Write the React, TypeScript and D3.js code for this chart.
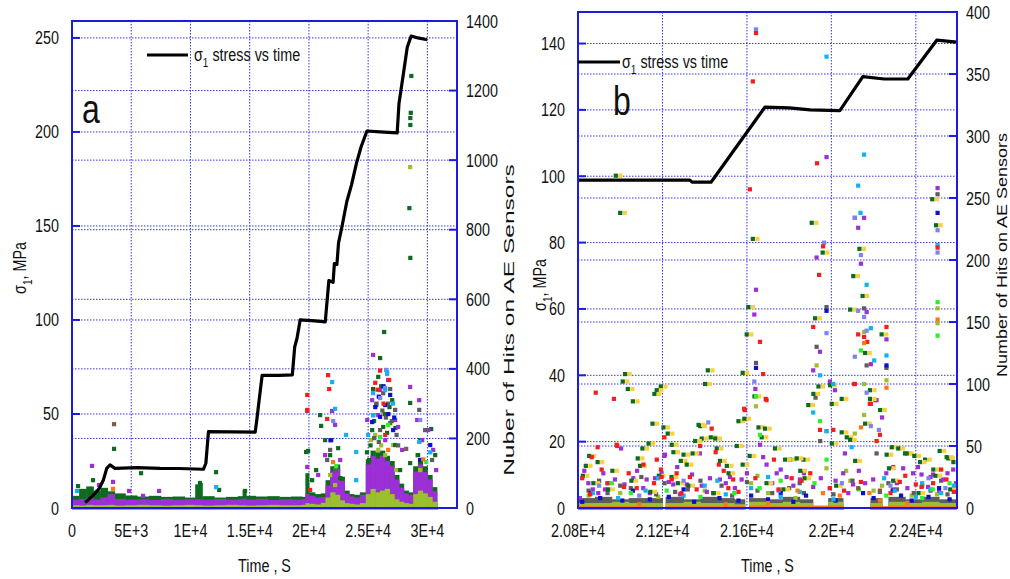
import React from "react";
import * as d3 from "d3";

const FONT = "'Liberation Sans', Arial, sans-serif";

const C = {
  darkGreen: "#0e6a1f",
  yellow: "#f7d23e",
  purple: "#9d2fd6",
  olive: "#9bbf2e",
  red: "#f51d1d",
  cyan: "#12b2ef",
  blue: "#0a12c8",
  grey: "#5d5d5d",
  lilac: "#7d84ee",
  bright: "#2cf02c",
  orange: "#f9781c",
  brown: "#7c5b57",
};
const FRAME = "#1c1ce0";
const GRID = "#3434e8";

type Pt = [number, number];

// ---------- panel a ----------
const timeTicksA = [0, 5000, 10000, 15000, 20000, 25000, 30000];
const timeLabelsA = ["0", "5E+3", "1E+4", "1.5E+4", "2E+4", "2.5E+4", "3E+4"];
const stressTicksA = [0, 50, 100, 150, 200, 250];
const hitTicksA = [0, 200, 400, 600, 800, 1000, 1200, 1400];

const stressA: Pt[] = [
  [1100, 3], [1380, 4.3], [1940, 7.8], [2310, 10.5], [2650, 14.9], [2930, 21.1], [3210, 22.9],
  [3630, 21.1], [5500, 21.5], [7440, 21.1], [9000, 21], [11100, 20.6], [11300, 23.8], [11520, 40.6],
  [13500, 40.5], [15460, 40.3], [15600, 46.8], [15800, 57.5], [16050, 70.5], [17500, 70.5],
  [18600, 70.8], [18800, 85.7], [19000, 90.4], [19260, 100], [20500, 99.5], [21380, 99], [21685, 121],
  [22040, 120], [22149, 130], [22362, 129.5], [22500, 141], [22800, 150], [23200, 163], [23600, 172],
  [24000, 183], [24400, 192], [24900, 200.5], [26000, 200], [27450, 199.5], [27600, 215], [28000, 232],
  [28300, 245], [28630, 251], [29200, 250], [29980, 249],
];

// dense low band of hits (columns between consecutive times)
const bandTimeA = [
  0, 600, 1200, 1800, 2400, 3000, 3600, 4500, 5500, 6500, 7500, 8500, 9500, 10400, 10700, 11000, 12000,
  13000, 14000, 14400, 14700, 15500, 16500, 17500, 18500, 19400, 19700, 20000, 20500, 21000, 21400,
  21800, 22200, 22600, 23000, 23400, 23800, 24300, 24800, 25200, 25600, 26000, 26400, 26800, 27200,
  27600, 28000, 28400, 28800, 29200, 29600, 30000, 30400, 30800,
];
const bandGreenA = [
  35, 55, 62, 50, 58, 48, 42, 36, 33, 35, 32, 33, 30, 68, 72, 34, 30, 32, 34, 52, 35, 33, 34, 32, 33,
  32, 100, 45, 40, 42, 80, 120, 125, 90, 50, 40, 38, 45, 140, 165, 160, 165, 150, 135, 95, 70, 50, 45,
  120, 140, 120, 95, 60,
];
const bandPurpleA = [
  24, 26, 28, 24, 30, 40, 26, 24, 25, 23, 26, 24, 25, 26, 25, 24, 26, 24, 25, 27, 24, 26, 23, 25, 24,
  26, 40, 35, 30, 32, 65, 105, 112, 78, 42, 33, 30, 38, 125, 150, 142, 150, 135, 120, 82, 58, 42, 38,
  105, 125, 108, 82, 48,
];
const bandOliveA = [
  8, 7, 9, 8, 8, 9, 7, 8, 9, 8, 7, 8, 9, 8, 8, 7, 8, 9, 8, 8, 7, 8, 9, 8, 8, 9, 14, 12, 10, 15, 30, 45,
  38, 22, 14, 12, 10, 14, 40, 55, 45, 50, 55, 40, 25, 18, 14, 12, 40, 50, 42, 32, 18,
];

const aDarkGreen: Pt[] = [
  [28645, 1242], [28600, 1136], [28560, 1121], [28560, 1101], [28480, 862], [28560, 719], [26350, 506],
  [26010, 431], [28545, 302], [28545, 129], [30320, 227], [21030, 236], [20945, 267], [19930, 164],
  [25850, 377], [25420, 342], [26270, 233], [26600, 216], [3550, 170], [5830, 100], [12160, 103],
  [12420, 52], [1775, 80], [510, 63], [14610, 49], [10810, 72], [19760, 161], [21370, 195], [21790, 152],
  [22210, 109], [22640, 86], [20610, 109], [20270, 80], [22470, 172], [25340, 224], [25680, 296],
  [27030, 310], [27280, 181], [27700, 109], [25080, 138], [29390, 195], [29810, 109], [30660, 152],
  [29220, 152], [25500, 250], [26100, 350], [26800, 290], [27300, 230], [25200, 180], [26400, 270],
  [24900, 160],
];
const aPurple: Pt[] = [
  [1690, 121], [4816, 49], [7350, 49], [6000, 35], [2280, 66], [3464, 75], [19860, 118], [25420, 440],
  [28545, 348], [21960, 279], [21370, 152], [21790, 195], [22210, 239], [22640, 138], [20780, 95],
  [24920, 253], [25340, 310], [26010, 339], [26690, 368], [27280, 253], [27530, 233], [27870, 167],
  [26440, 195], [25850, 267], [29140, 253], [29310, 310], [29560, 195], [30070, 224], [30490, 167],
  [30740, 109],
];
const aRed: Pt[] = [
  [19860, 282], [21620, 382], [21710, 342], [19860, 325], [19860, 279], [21540, 256], [26770, 368],
  [26440, 210], [20100, 52], [26000, 395], [25600, 360], [26300, 300], [25800, 340],
];
const aCyan: Pt[] = [
  [21960, 362], [22210, 285], [23140, 210], [26600, 385], [25420, 330], [12170, 60], [420, 49],
  [23990, 161], [23990, 80], [25420, 267], [26440, 339], [26600, 391], [29310, 190], [30240, 160],
  [25000, 210], [27100, 300],
];
const aGrey: Pt[] = [
  [26860, 342], [26270, 330], [25420, 267], [26860, 244], [25510, 201], [27280, 282], [26010, 224],
  [21790, 167], [22210, 109], [21540, 138], [29310, 282], [29810, 224], [30400, 138], [27530, 180],
  [25700, 300], [26200, 280], [26700, 300], [27000, 250], [25900, 190], [26500, 260], [27400, 210],
];
const aBlue: Pt[] = [
  [26010, 262], [25340, 247], [26860, 325], [26440, 296], [27110, 224], [21880, 195], [29390, 138],
  [30240, 181], [25600, 290], [26300, 350], [26700, 270], [25900, 320], [27200, 260],
];
const aLilac: Pt[] = [[26440, 345], [26520, 397], [29390, 253], [26010, 316], [22050, 250]];
const aOlive: Pt[] = [
  [25250, 195], [25850, 167], [26440, 152], [27110, 181], [27370, 109], [21790, 95], [22210, 66],
  [29140, 152], [29390, 109], [28545, 980], [25600, 210], [26100, 180],
];
const aBright: Pt[] = [[26010, 204], [26690, 239], [29900, 132], [22300, 120]];
const aOrange: Pt[] = [[22040, 132], [26690, 167], [3460, 55], [29650, 140]];
const aBrown: Pt[] = [[3550, 241], [28210, 170]];

// ---------- panel b ----------
const timeTicksB = [20800, 21200, 21600, 22000, 22400];
const timeLabelsB = ["2.08E+4", "2.12E+4", "2.16E+4", "2.2E+4", "2.24E+4"];
const stressTicksB = [0, 20, 40, 60, 80, 100, 120, 140];
const hitTicksB = [0, 50, 100, 150, 200, 250, 300, 350, 400];

const stressB: Pt[] = [
  [20800, 98.8], [21330, 98.8], [21340, 98.2], [21430, 98.2], [21685, 120.8], [21800, 120.6],
  [21900, 120], [22040, 119.8], [22149, 130], [22250, 129.3], [22362, 129.3], [22499, 141],
  [22594, 140.4],
];

const bandTimeB = [
  20800, 20880, 20960, 21040, 21120, 21200, 21215, 21300, 21380, 21460, 21540, 21590, 21610, 21690,
  21770, 21850, 21912, 21985, 22055, 22185, 22240, 22270, 22350, 22430, 22510, 22594,
];
const bandGreyB = [8, 9, 7, 8, 8, null, 9, 7, 9, 8, 7, null, 8, 7, 9, 7, null, 8, null, 8, null, 9, 7, 9, 7];
const bandOliveB = [4, 4, 5, 4, 4, null, 4, 5, 4, 4, 3, null, 5, 4, 5, 4, null, 5, null, 4, null, 5, 4, 5, 4];
const bandOrangeB = [1.5, 1.5, 1.5, 1.5, 1, null, 1.5, 1.5, 1.5, 1.5, 1.5, null, 2, 1.5, 1.5, 1.5, 2, 2, null, 2, 1.5, 2, 1.5, 1.5, 1.5];

const bGreenY: Pt[] = [
  [20986, 268], [21007, 238], [22485, 249], [21635, 217], [21614, 162], [21606, 140], [21587, 109],
  [21030, 108], [21422, 111], [21019, 102], [21043, 96], [21409, 100], [21199, 98], [21180, 95],
  [21169, 92], [21067, 86], [21160, 68], [21386, 66], [21212, 65], [21662, 65], [21232, 60], [21677, 57],
  [21393, 56], [21436, 57], [21362, 54], [21141, 52], [21251, 51], [21559, 50], [21112, 48], [21259, 45],
  [21307, 43], [21464, 48], [21294, 38], [20844, 34], [21101, 34], [21322, 35], [21512, 34], [21587, 35],
  [21914, 230], [21966, 206], [22140, 209], [22111, 187], [22155, 171], [22096, 160], [21930, 153],
  [22245, 140], [22167, 125], [22190, 95], [22009, 84], [22238, 79], [22056, 61], [22080, 57],
  [22009, 52], [22293, 49], [22356, 44], [22561, 40], [22451, 39], [21812, 39], [21875, 39], [21378, 67],
  [21457, 56], [21567, 70], [21595, 72], [21643, 90], [21693, 64], [21788, 39], [21843, 40], [21898, 83],
  [21922, 92], [21946, 98], [22001, 99], [22056, 88], [22096, 55], [22167, 68], [22190, 88], [22269, 43],
  [22324, 48], [22364, 44], [22427, 37], [22490, 31], [22553, 41], [22585, 37], [20830, 26], [20880, 20],
  [20950, 15], [21060, 22], [21150, 13], [21250, 25], [21330, 18], [21450, 12], [21520, 28], [21700, 20],
  [21780, 15], [21880, 24], [22030, 18], [22300, 22], [22420, 12], [22500, 26], [22570, 15],
  [22503, 228], [20860, 42], [20900, 37], [20970, 30], [21090, 40], [21190, 26], [21280, 20], [21350, 44],
  [21480, 38], [21620, 42], [21740, 48], [21860, 30], [22120, 38], [22280, 32], [22400, 42], [22520, 46],
];
const bPurple: Pt[] = [
  [22503, 258], [21977, 283], [22111, 234], [22155, 234], [22127, 226], [21643, 176], [21635, 156],
  [21640, 96], [21930, 202], [22140, 197], [22167, 158], [22261, 136], [21946, 126], [21914, 111],
  [22187, 116], [21993, 102], [22209, 87], [22017, 95], [22240, 73], [22064, 44], [20809, 8], [20849, 20],
  [20896, 12], [20928, 15], [20975, 23], [21004, 48], [21062, 24], [21109, 16], [21125, 23], [21165, 24],
  [21196, 28], [21212, 43], [21251, 19], [21283, 11], [21315, 19], [21386, 18], [21425, 24], [21472, 23],
  [21520, 25], [21543, 16], [21575, 23], [21662, 51], [21677, 41], [21693, 35], [21741, 28], [21788, 25],
  [21851, 23], [21914, 17], [21993, 16], [22056, 28], [22103, 19], [22198, 23], [22214, 87], [22293, 33],
  [22340, 32], [22387, 28], [22427, 27], [22482, 27], [22529, 23], [22577, 31], [22458, 17], [22293, 15],
  [21209, 42], [21377, 44], [20830, 30], [20870, 15], [20920, 28], [21020, 19], [21080, 30], [21140, 12],
  [21230, 21], [21270, 33], [21340, 27], [21410, 13], [21500, 20], [21600, 28], [21720, 20], [21760, 31],
  [21820, 18], [21870, 28], [21950, 24], [22020, 22], [22080, 12], [22130, 30], [22160, 20], [22260, 28],
  [22310, 20], [22360, 16], [22410, 33], [22470, 25], [22510, 14], [22550, 28], [22590, 20],
];
const bRed: Pt[] = [
  [21643, 383], [21628, 344], [21614, 257], [21932, 278], [21662, 134], [21677, 108], [20884, 93],
  [20970, 88], [21689, 88], [21587, 80], [21433, 64], [21209, 57], [20986, 50], [20893, 49], [21452, 45],
  [20865, 41], [21467, 35], [21193, 31], [21942, 188], [21961, 211], [21914, 146], [22127, 140],
  [22155, 138], [22170, 134], [22261, 146], [22108, 100], [22187, 84], [22009, 63], [22230, 59],
  [20912, 31], [20857, 11], [20983, 51], [21018, 17], [21078, 16], [21173, 39], [21196, 25], [21267, 28],
  [21244, 23], [21362, 15], [21378, 50], [21512, 16], [21535, 23], [21590, 79], [21693, 87], [21728, 39],
  [21812, 24], [21859, 22], [21946, 63], [21993, 16], [22111, 100], [22182, 84], [22214, 54], [22324, 21],
  [22427, 17], [22482, 20], [22545, 23], [22503, 210], [20820, 24], [20940, 20], [21040, 28], [21110, 35],
  [21160, 20], [21290, 12], [21330, 25], [21490, 30], [21560, 13], [21640, 24], [21750, 15], [21900, 28],
  [22060, 14], [22140, 21], [22280, 12], [22350, 26], [22400, 19], [22520, 31], [22580, 13],
];
const bCyan: Pt[] = [
  [21977, 364], [22155, 285], [22127, 260], [22138, 238], [21378, 50], [22167, 180], [22187, 145],
  [21946, 107], [22203, 119], [22261, 123], [22009, 100], [21914, 77], [21977, 62], [22096, 49],
  [22503, 212], [20870, 12], [20990, 8], [21120, 14], [21300, 10], [21400, 18], [21500, 11], [21620, 16],
  [21760, 9], [21850, 13], [22010, 7], [22300, 14], [22400, 9], [22520, 12], [22580, 18], [22430, 20],
  [20940, 20], [21180, 24], [21460, 22], [21700, 25], [22250, 24], [22470, 15],
];
const bBlue: Pt[] = [
  [22503, 238], [21643, 113], [21977, 159], [22261, 115], [20820, 5], [20905, 8], [21010, 6], [21140, 7],
  [21230, 9], [21350, 5], [21470, 8], [21560, 6], [21700, 7], [21820, 5], [21880, 10], [22020, 6],
  [22200, 8], [22330, 10], [22380, 6], [22460, 9], [22560, 7], [20860, 12], [21060, 14], [21300, 15],
  [21620, 10], [21760, 12], [22150, 12], [22290, 14], [22510, 16],
];
const bGrey: Pt[] = [
  [21643, 117], [21977, 162], [22155, 161], [21930, 130], [22167, 115], [22261, 113], [21925, 89],
  [21947, 54], [22214, 44], [22503, 253], [20850, 14], [20940, 12], [21050, 16], [21170, 11], [21260, 13],
  [21320, 15], [21440, 12], [21530, 10], [21650, 14], [21720, 12], [21800, 16], [21870, 12], [22010, 11],
  [22230, 13], [22310, 15], [22390, 12], [22470, 14], [22550, 11], [20900, 22], [21000, 18], [21100, 25],
  [21210, 20], [21380, 22], [21480, 18], [21600, 21], [21850, 20], [22100, 22], [22270, 20], [22430, 18],
  [22520, 22],
];
const bLilac: Pt[] = [
  [22111, 234], [21966, 214], [22140, 204], [22127, 159], [22155, 154], [21977, 141], [22167, 143],
  [22111, 122], [22167, 93], [22187, 66], [21977, 62], [22225, 63], [21635, 102], [21417, 69],
  [21643, 386], [22503, 224], [22503, 206], [20900, 18], [21090, 10], [21300, 22], [21750, 14],
  [22050, 20], [22280, 18], [22460, 24], [22540, 16],
];
const bOlive: Pt[] = [
  [21643, 82], [22155, 142], [21930, 115], [22261, 103], [22155, 100], [22155, 75], [22111, 60],
  [21977, 32], [22503, 161], [22503, 149], [20850, 10], [21000, 12], [21180, 9], [21400, 14], [21620, 20],
  [21650, 26], [21700, 12], [21830, 8], [22070, 30], [22090, 22], [22200, 14], [22240, 18], [22380, 10],
  [22500, 11],
];
const bOrange: Pt[] = [
  [22155, 133], [22261, 97], [22140, 65], [22503, 152], [21840, 14], [21960, 12], [22040, 10],
  [22180, 12], [22230, 6], [22360, 4], [21090, 3], [21500, 3], [21700, 4],
];
const bBright: Pt[] = [
  [21643, 90], [21662, 59], [22140, 127], [21946, 70], [21977, 39], [22503, 166], [22503, 139],
  [21050, 12], [21380, 9], [21660, 16], [21920, 20], [22130, 15], [22430, 8], [22560, 20], [20960, 20],
  [21220, 14], [21540, 12], [21760, 22], [22260, 10], [22480, 15],
];
const bBrown: Pt[] = [[22127, 16], [22230, 14]];

type Series = { color: string; pts: Pt[]; shadow?: string };
type Band = { color: string; vals: (number | null)[] };

function NText(props: {
  x: number; y: number; anchor?: string; size?: number; sx?: number; rotate?: number;
  children: React.ReactNode;
}) {
  const { x, y, anchor = "middle", size = 17.5, sx = 0.82, rotate = 0 } = props;
  return (
    <g transform={`translate(${x},${y}) rotate(${rotate}) scale(${sx},1)`}>
      <text textAnchor={anchor} fontSize={size} fontFamily={FONT} fill="#111">
        {props.children}
      </text>
    </g>
  );
}

function Panel(props: {
  id: string;
  x: d3.ScaleLinear<number, number>;
  yS: d3.ScaleLinear<number, number>;
  yH: d3.ScaleLinear<number, number>;
  timeTicks: number[];
  timeLabels: string[];
  stressTicks: number[];
  hitTicks: number[];
  bandTime: number[];
  bands: Band[];
  series: Series[];
  stress: Pt[];
}) {
  const { id, x, yS, yH } = props;
  const [x0, x1] = x.range();
  const [yb, yt] = yS.range();
  const line = d3.line<Pt>().x((d) => x(d[0])).y((d) => yS(d[1]));
  const s = 4.2;
  return (
    <g>
      <defs>
        <clipPath id={id}>
          <rect x={x0} y={yt} width={x1 - x0} height={yb - yt + 3} />
        </clipPath>
      </defs>
      {/* grid */}
      {props.timeTicks.filter((t) => x(t) > x0 + 2).map((t) => (
        <line key={"v" + t} x1={x(t)} x2={x(t)} y1={yt} y2={yb} stroke={GRID} strokeWidth={1} strokeDasharray="1.5,1.5" />
      ))}
      {props.stressTicks.filter((v) => yS(v) > yt + 2 && yS(v) < yb - 2).map((v) => (
        <line key={"s" + v} x1={x0} x2={x1} y1={yS(v)} y2={yS(v)} stroke={GRID} strokeWidth={1} strokeDasharray="1.5,1.5" />
      ))}
      {props.hitTicks.filter((v) => yH(v) > yt + 2 && yH(v) < yb - 2).map((v) => (
        <line key={"h" + v} x1={x0} x2={x1} y1={yH(v)} y2={yH(v)} stroke={GRID} strokeWidth={1} strokeDasharray="1.5,1.5" />
      ))}
      <g clipPath={`url(#${id})`}>
        {props.bands.map((b, bi) => (
          <g key={bi} fill={b.color}>
            {b.vals.map((v, i) =>
              v == null ? null : (
                <rect
                  key={i}
                  x={x(props.bandTime[i])}
                  width={x(props.bandTime[i + 1]) - x(props.bandTime[i]) + 0.5}
                  y={yH(v)}
                  height={yH(0) - yH(v) + 2}
                />
              )
            )}
          </g>
        ))}
        {props.series.map((se, si) => (
          <g key={si}>
            {se.pts.map((p, i) => (
              <g key={i}>
                {se.shadow && (
                  <rect x={x(p[0]) + 1} y={yH(p[1]) - s / 2} width={s} height={s} fill={se.shadow} />
                )}
                <rect x={x(p[0]) - s / 2 - (se.shadow ? 1.5 : 0)} y={yH(p[1]) - s / 2} width={s} height={s} fill={se.color} />
              </g>
            ))}
          </g>
        ))}
        <path d={line(props.stress) || ""} fill="none" stroke="#000" strokeWidth={3.2} strokeLinejoin="round" />
      </g>
      {/* frame and ticks */}
      <rect x={x0} y={yt} width={x1 - x0} height={yb - yt} fill="none" stroke={FRAME} strokeWidth={2} />
      {props.stressTicks.map((v) => (
        <g key={"ts" + v}>
          <line x1={x0} x2={x0 + 8} y1={yS(v)} y2={yS(v)} stroke={FRAME} strokeWidth={2} />
          <NText x={x0 - 13} y={yS(v) + 6.5} anchor="end">{v}</NText>
        </g>
      ))}
      {props.hitTicks.map((v) => (
        <g key={"th" + v}>
          <line x1={x1 - 8} x2={x1} y1={yH(v)} y2={yH(v)} stroke={FRAME} strokeWidth={2} />
          <NText x={x1 + 9} y={yH(v) + 6.5} anchor="start">{v}</NText>
        </g>
      ))}
      {props.timeTicks.map((t, i) => (
        <NText key={"tt" + t} x={x(t)} y={537}>{props.timeLabels[i]}</NText>
      ))}
      <NText x={(x0 + x1) / 2} y={572}>Time , S</NText>
    </g>
  );
}

function SigmaLabel(props: { x: number; y: number; rotate?: number; size?: number; text: string }) {
  const { x, y, rotate = 0, size = 17.5 } = props;
  return (
    <g transform={`translate(${x},${y}) rotate(${rotate}) scale(0.82,1)`}>
      <text textAnchor={rotate ? "middle" : "start"} fontSize={size} fontFamily={FONT} fill="#111">
        σ<tspan fontSize={size * 0.7} dy={6}>1</tspan>
        <tspan dy={-6}>{props.text}</tspan>
      </text>
    </g>
  );
}

export default function App() {
  const xA = d3.scaleLinear().domain([0, 32500]).range([72, 457]);
  const ySA = d3.scaleLinear().domain([0, 259]).range([508, 21]);
  const yHA = d3.scaleLinear().domain([0, 1400]).range([508, 21]);

  const xB = d3.scaleLinear().domain([20800, 22595]).range([578, 957]);
  const ySB = d3.scaleLinear().domain([0, 149.5]).range([508, 12]);
  const yHB = d3.scaleLinear().domain([0, 400]).range([508, 12]);

  const seriesA: Series[] = [
    { color: C.olive, pts: aOlive },
    { color: C.darkGreen, pts: aDarkGreen },
    { color: C.purple, pts: aPurple },
    { color: C.grey, pts: aGrey },
    { color: C.blue, pts: aBlue },
    { color: C.lilac, pts: aLilac },
    { color: C.cyan, pts: aCyan },
    { color: C.red, pts: aRed },
    { color: C.bright, pts: aBright },
    { color: C.orange, pts: aOrange },
    { color: C.brown, pts: aBrown },
  ];
  const seriesB: Series[] = [
    { color: C.olive, pts: bOlive },
    { color: C.grey, pts: bGrey },
    { color: C.purple, pts: bPurple },
    { color: C.darkGreen, pts: bGreenY, shadow: C.yellow },
    { color: C.blue, pts: bBlue },
    { color: C.lilac, pts: bLilac },
    { color: C.cyan, pts: bCyan },
    { color: C.red, pts: bRed },
    { color: C.bright, pts: bBright },
    { color: C.orange, pts: bOrange },
    { color: C.brown, pts: bBrown },
  ];

  return (
    <svg width={1010} height={579} style={{ position: "absolute", left: 0, top: 0, background: "#fff" }}>
      <Panel
        id="clipA"
        x={xA}
        yS={ySA}
        yH={yHA}
        timeTicks={timeTicksA}
        timeLabels={timeLabelsA}
        stressTicks={stressTicksA}
        hitTicks={hitTicksA}
        bandTime={bandTimeA}
        bands={[
          { color: C.darkGreen, vals: bandGreenA },
          { color: C.purple, vals: bandPurpleA },
          { color: C.olive, vals: bandOliveA },
        ]}
        series={seriesA}
        stress={stressA}
      />
      <Panel
        id="clipB"
        x={xB}
        yS={ySB}
        yH={yHB}
        timeTicks={timeTicksB}
        timeLabels={timeLabelsB}
        stressTicks={stressTicksB}
        hitTicks={hitTicksB}
        bandTime={bandTimeB}
        bands={[
          { color: C.grey, vals: bandGreyB },
          { color: C.olive, vals: bandOliveB },
          { color: C.orange, vals: bandOrangeB },
        ]}
        series={seriesB}
        stress={stressB}
      />

      {/* legends */}
      <line x1={147} x2={188} y1={55} y2={55} stroke="#000" strokeWidth={3} />
      <SigmaLabel x={194} y={61} text=" stress vs time" />
      <line x1={578} x2={620} y1={62} y2={62} stroke="#000" strokeWidth={3} />
      <SigmaLabel x={622} y={68} text=" stress vs time" />

      {/* panel letters */}
      <NText x={82} y={123} anchor="start" size={40} sx={0.8}>a</NText>
      <NText x={613} y={115} anchor="start" size={40} sx={0.8}>b</NText>

      {/* axis titles */}
      <SigmaLabel x={26} y={268} rotate={-90} text=", MPa" />
      <SigmaLabel x={546} y={285} rotate={-90} text=", MPa" />
      <g transform="translate(514,320) rotate(-90) scale(1.4,0.8)">
        <text textAnchor="middle" fontSize={17.5} fontFamily={FONT} fill="#111">Nuber of Hits on AE Sensors</text>
      </g>
      <g transform="translate(1007,255) rotate(-90) scale(1,0.82)">
        <text textAnchor="middle" fontSize={18} fontFamily={FONT} fill="#111">Number of Hits on AE Sensors</text>
      </g>
    </svg>
  );
}
